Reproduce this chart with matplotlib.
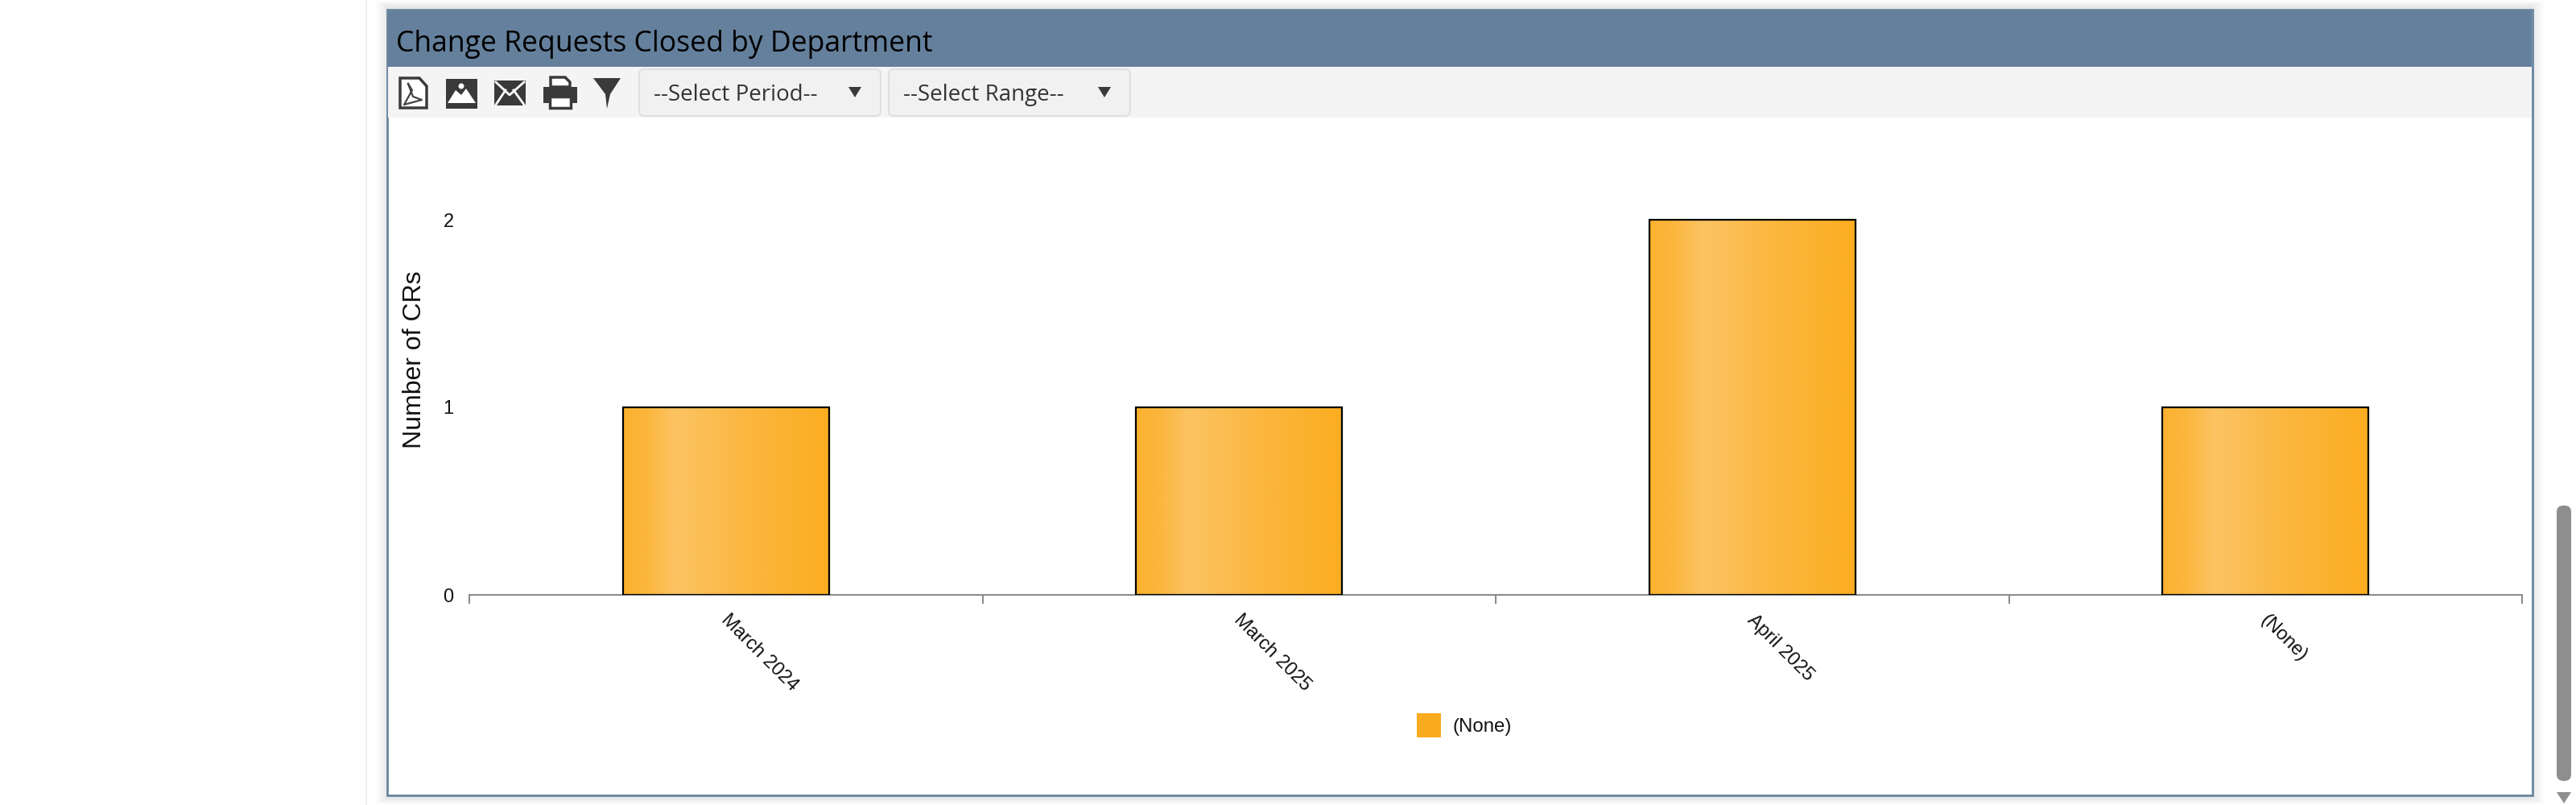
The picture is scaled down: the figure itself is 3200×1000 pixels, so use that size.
import matplotlib
matplotlib.use('Agg')
import matplotlib.pyplot as plt
from matplotlib.patches import Rectangle, Polygon, FancyBboxPatch, Circle
from matplotlib.transforms import ScaledTranslation
import numpy as np

title = 'Change Requests Closed by Department'
periods = ['March 2024', 'March 2025', 'April 2025', '(None)']
counts = [1, 1, 2, 1]
yticks = [0, 1, 2]
ylabel = 'Number of CRs'
legend_name = '(None)'
dropdowns = ['--Select Period--', '--Select Range--']

W, H = 3200, 1000
ICON = '#3a3a3a'
fig = plt.figure(figsize=(W / 100, H / 100), dpi=100, facecolor='white')

# page chrome, in pixel coordinates
bg = fig.add_axes([0, 0, 1, 1])
bg.set_xlim(0, W)
bg.set_ylim(H, 0)
bg.axis('off')

bg.add_patch(Rectangle((454, 0), 2, H, fc='#f0f0f0', ec='none'))
for i in range(8):
    bg.add_patch(Rectangle((481 - i * 2, 8 - i), 2665 + i * 4, 984 + i * 2, fc='black', alpha=0.012, ec='none'))
bg.add_patch(Rectangle((481, 12), 2665, 976, fc='white', ec='#6a86a0', lw=2))
bg.add_patch(Rectangle((482, 13), 2663, 70, fc='#64809c', ec='none'))
bg.add_patch(Rectangle((482, 83), 2663, 63, fc='#f4f4f4', ec='none'))
bg.text(492, 55, title, fontsize=25.6, family='Open Sans', color='black', va='center', ha='left')

# toolbar icons
bg.add_patch(Polygon([(497, 97), (521, 97), (530, 107), (530, 134), (497, 134)], fc='white', ec=ICON, lw=2.5))
bg.plot([507, 513, 524, 502, 512, 507], [104, 120, 124, 130, 112, 104], color='#444444', lw=1.6)
bg.add_patch(Rectangle((554, 98), 39, 37, fc=ICON, ec='none'))
bg.add_patch(Polygon([(556, 128), (566, 112), (573, 118), (579, 110), (591, 128)], fc='white', ec='none'))
bg.add_patch(Circle((573, 107), 3.5, fc='white', ec='none'))
bg.add_patch(Rectangle((614, 100), 39, 31, fc=ICON, ec='none'))
bg.plot([616, 633, 651], [102, 118, 102], color='white', lw=2)
bg.plot([616, 628], [130, 112], color='white', lw=2)
bg.plot([651, 638], [130, 112], color='white', lw=2)
bg.add_patch(Rectangle((675, 108), 42, 20, fc=ICON, ec='none'))
bg.add_patch(Polygon([(684, 96), (702, 96), (708, 102), (708, 108), (684, 108)], fc='white', ec=ICON, lw=2.5))
bg.add_patch(Rectangle((683, 120), 26, 14, fc='white', ec=ICON, lw=2.5))
bg.add_patch(Polygon([(737, 97), (771, 97), (758, 117), (754, 135), (752, 117)], fc=ICON, ec='none'))

# dropdowns
for label, x0, x1 in zip(dropdowns, [794, 1104], [1094, 1404]):
    bg.add_patch(FancyBboxPatch((x0, 86), x1 - x0, 58, boxstyle='round,pad=0,rounding_size=6',
                                fc='#f1f1f1', ec='#e0e0e0', lw=1.5))
    bg.text(x0 + 18, 118, label, fontsize=20, family='Open Sans', color='#333333', va='center', ha='left')
    bg.add_patch(Polygon([(x1 - 40, 108), (x1 - 24, 108), (x1 - 32, 121)], fc=ICON, ec='none'))

# scrollbar
bg.add_patch(FancyBboxPatch((3176, 628), 18, 342, boxstyle='round,pad=0,rounding_size=8', fc='#8e8e8e', ec='none'))
bg.add_patch(Polygon([(3176, 984), (3194, 984), (3185, 998)], fc='#8e8e8e', ec='none'))

# chart
left, right, y0, unit = 583, 3133, 739, 233
top_val = 2.2
ax = fig.add_axes([left / W, (H - y0) / H, (right - left) / W, unit * top_val / H])
ax.patch.set_alpha(0)
x = np.arange(len(periods))
bars = ax.bar(x, counts, width=0.402, facecolor='none', edgecolor='black', linewidth=1.6, zorder=3)

stops = np.array([0, 0.12, 0.25, 0.33, 0.6, 1.0])
c0 = np.array([251, 173, 33])
c1 = np.array([251, 195, 98])
mix = np.array([0.2, 0.45, 1.0, 0.9, 0.45, 0.0])
u = np.linspace(0, 1, 256)
m = np.interp(u, stops, mix)
grad = (c0[None, :] + (c1 - c0)[None, :] * m[:, None]) / 255
grad = grad[None, :, :]
for b in bars:
    im = ax.imshow(grad, extent=[b.get_x(), b.get_x() + b.get_width(), 0, b.get_height()],
                   aspect='auto', zorder=2, interpolation='bilinear')

ax.set_xlim(-0.5, len(periods) - 0.5)
ax.set_ylim(0, top_val)
for s in ['top', 'left', 'right']:
    ax.spines[s].set_visible(False)
ax.spines['bottom'].set_color('#8c8c8c')
ax.spines['bottom'].set_linewidth(1.5)

ax.set_xticks(np.arange(len(periods) + 1) - 0.5)
ax.set_xticklabels([])
ax.tick_params(axis='x', which='major', length=8, width=1.5, color='#8c8c8c')
ax.set_xticks(x, minor=True)
ax.set_xticklabels(periods, minor=True, rotation=-45, ha='left', va='center', rotation_mode='anchor',
                   fontsize=17, family='Liberation Sans', color='#111111')
ax.tick_params(axis='x', which='minor', length=0, pad=20)
shift = ScaledTranslation(-3 / 100, 0, fig.dpi_scale_trans)
for t in ax.get_xticklabels(minor=True):
    t.set_transform(t.get_transform() + shift)

ax.set_yticks(yticks)
ax.set_yticklabels([str(v) for v in yticks], fontsize=17, family='Liberation Sans', color='#111111')
ax.tick_params(axis='y', length=0, pad=14)
ax.set_ylabel(ylabel, fontsize=23, family='Liberation Sans', color='#111111')
ax.yaxis.set_label_coords((530 - left) / (right - left), (y0 - 447) / (unit * top_val))

# legend
bg.add_patch(Rectangle((1760, 886), 30, 30, fc='#fbab1e', ec='none'))
bg.text(1804, 903, legend_name, fontsize=17.3, family='Liberation Sans', color='#111111', va='center', ha='left')

fig.savefig('out.png', dpi=100, facecolor='white')
